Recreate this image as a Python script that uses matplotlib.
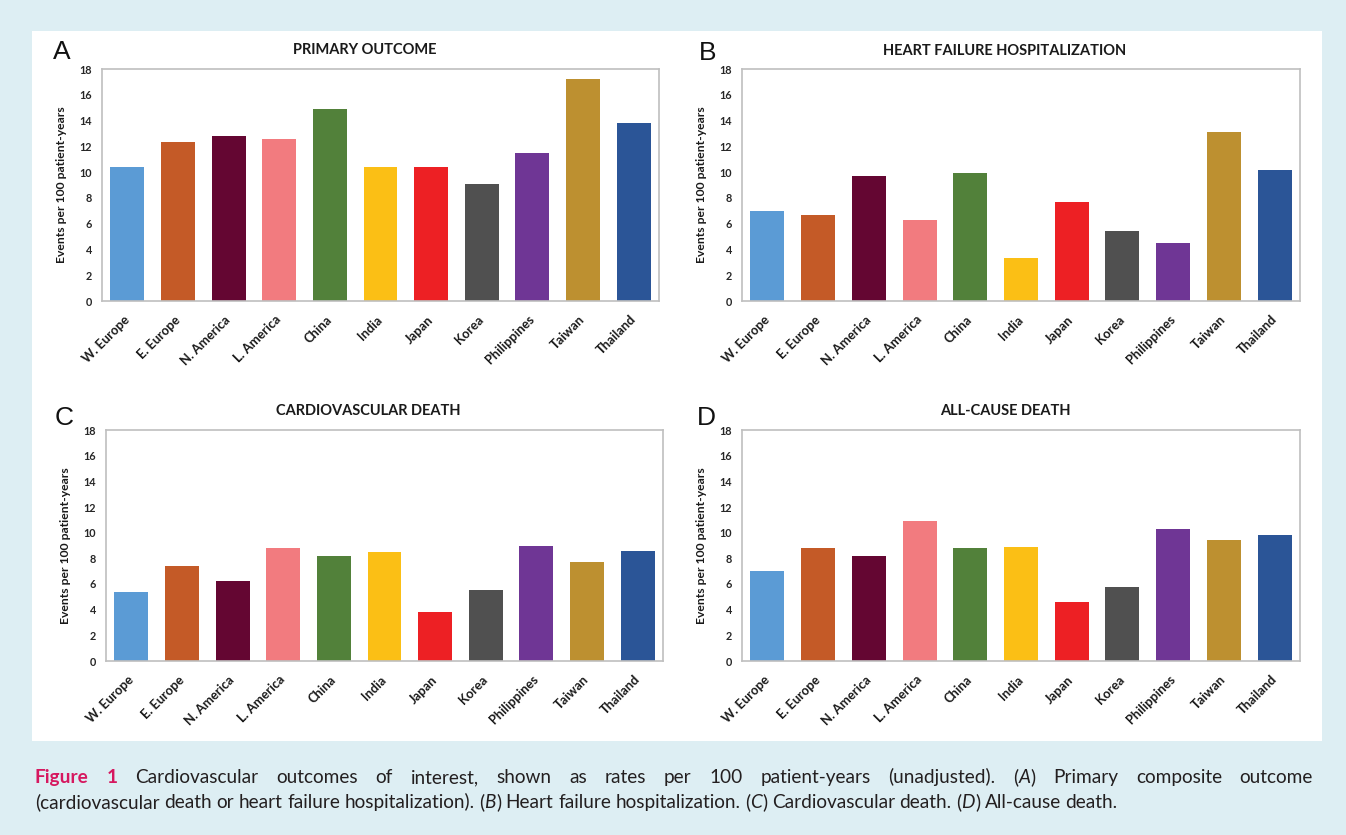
import matplotlib

matplotlib.use("Agg")
import matplotlib.pyplot as plt
import matplotlib.transforms as mtransforms
from matplotlib.patches import Rectangle

# ---- data (events per 100 patient-years) ----
regions = ["W. Europe", "E. Europe", "N. America", "L. America", "China", "India",
           "Japan", "Korea", "Philippines", "Taiwan", "Thailand"]
primary_outcome = [10.4, 12.3, 12.8, 12.6, 14.9, 10.4, 10.4, 9.1, 11.5, 17.2, 13.8]
hf_hospitalization = [7.0, 6.7, 9.7, 6.3, 9.9, 3.3, 7.7, 5.45, 4.5, 13.1, 10.2]
cv_death = [5.4, 7.4, 6.2, 8.8, 8.2, 8.5, 3.8, 5.5, 9.0, 7.7, 8.6]
all_cause_death = [7.05, 8.8, 8.2, 10.9, 8.8, 8.9, 4.6, 5.8, 10.3, 9.4, 9.8]

titles = ["PRIMARY OUTCOME", "HEART FAILURE HOSPITALIZATION",
          "CARDIOVASCULAR DEATH", "ALL-CAUSE DEATH"]
letters = ["A", "B", "C", "D"]
yticks = list(range(0, 19, 2))

bar_colors = ["#5b9bd5", "#c45a27", "#640632", "#f27b7f", "#52813a", "#fbbf15",
              "#ed2024", "#505050", "#6f3695", "#bd9030", "#2b5597"]

W, H = 1346, 835
BG = "#ddeef3"
FONT = "Lato"

fig = plt.figure(figsize=(W / 100, H / 100), dpi=100, facecolor=BG)


def px_box(left, top, right, bottom):
    """pixel box (origin top-left) -> figure fraction [l, b, w, h]"""
    return [left / W, 1 - bottom / H, (right - left) / W, (bottom - top) / H]


# white panel behind the four charts
fig.patches.append(Rectangle((32 / W, 1 - 741 / H), (1322 - 32) / W, (741 - 31) / H,
                             transform=fig.transFigure, facecolor="white",
                             edgecolor="none", zorder=-10))

# axes boxes in pixels: left, top, right, bottom
boxes = [(102, 69, 659, 301), (742, 69, 1300, 301),
         (106, 430, 663, 661), (742, 430, 1300, 661)]
letter_pos = [(53, 52), (699, 53), (55, 418), (697, 418)]
title_y = [50, 51, 411, 411]
series = [primary_outcome, hf_hospitalization, cv_death, all_cause_death]

for box, vals, title, letter, lpos, ty in zip(boxes, series, titles, letters,
                                             letter_pos, title_y):
    ax = fig.add_axes(px_box(*box))
    ax.set_zorder(1)
    x = range(len(regions))
    ax.bar(x, vals, width=0.67, color=bar_colors, edgecolor="none", zorder=2)
    ax.set_xlim(-0.5, len(regions) - 0.5)
    ax.set_ylim(0, 18)
    ax.set_yticks(yticks)
    ax.set_yticklabels([str(t) for t in yticks], fontsize=7.8, fontweight="bold",
                       family=FONT, color="#262626")
    ax.set_xticks(list(x))
    ax.set_xticklabels(regions, rotation=45, ha="right", va="center",
                       rotation_mode="anchor", fontsize=9.3, fontweight="bold",
                       family=FONT, color="#1a1a1a")
    shift = mtransforms.ScaledTranslation(5 / 100, 0, fig.dpi_scale_trans)
    for lab in ax.get_xticklabels():
        lab.set_transform(lab.get_transform() + shift)
    ax.tick_params(axis="both", length=0)
    ax.tick_params(axis="y", pad=7)
    ax.tick_params(axis="x", pad=12)
    for sp in ax.spines.values():
        sp.set_color("#bfbfbf")
        sp.set_linewidth(1.2)
    ax.set_ylabel("Events per 100 patient-years", fontsize=8.7, fontweight="bold",
                  family=FONT, color="#1a1a1a")
    ax.yaxis.set_label_coords(-35 / (box[2] - box[0]), 0.5)

    cx = (box[0] + box[2]) / 2 - 16
    fig.text(cx / W, 1 - ty / H, title, ha="center", va="center", fontsize=10.5,
             fontweight="bold", family=FONT, color="#1a1a1a")
    fig.text(lpos[0] / W, 1 - lpos[1] / H, letter, ha="left", va="center",
             fontsize=19, family="Liberation Sans", color="#111111")

# ---- caption, justified like the journal layout ----
PINK = "#d6185f"
TXT = "#231f20"
cap_size = 13.7


def words_of(s, **kw):
    return [[(w, kw)] for w in s.split()]


line1 = ([[("Figure", dict(color=PINK, fontweight="bold"))],
          [("1", dict(color=PINK, fontweight="bold"))]]
         + words_of("Cardiovascular outcomes of interest, shown as rates per 100 "
                    "patient-years (unadjusted).")
         + [[("(", {}), ("A", dict(style="italic")), (")", {})]]
         + words_of("Primary composite outcome"))
line2 = (words_of("(cardiovascular death or heart failure hospitalization).")
         + [[("(", {}), ("B", dict(style="italic")), (")", {})]]
         + words_of("Heart failure hospitalization.")
         + [[("(", {}), ("C", dict(style="italic")), (")", {})]]
         + words_of("Cardiovascular death.")
         + [[("(", {}), ("D", dict(style="italic")), (")", {})]]
         + words_of("All-cause death."))

renderer = fig.canvas.get_renderer()


def place_line(y_px, words, x0, x1, justify):
    made = []
    widths = []
    for word in words:
        parts = []
        wsum = 0.0
        for s, kw in word:
            opts = dict(fontsize=cap_size, family=FONT, color=TXT, va="baseline",
                        ha="left")
            opts.update(kw)
            t = fig.text(0, 1 - y_px / H, s, **opts)
            wpx = t.get_window_extent(renderer).width
            parts.append((t, wpx))
            wsum += wpx
        made.append(parts)
        widths.append(wsum)
    if justify:
        gap = (x1 - x0 - sum(widths)) / (len(words) - 1)
    else:
        gap = 4.6
    x = x0
    for parts, wsum in zip(made, widths):
        xx = x
        for t, wpx in parts:
            t.set_x(xx / W)
            xx += wpx
        x += wsum + gap


place_line(783, line1, 35, 1313, True)
place_line(808, line2, 35, 1313, False)

fig.savefig("out.png", dpi=100, facecolor=BG)
